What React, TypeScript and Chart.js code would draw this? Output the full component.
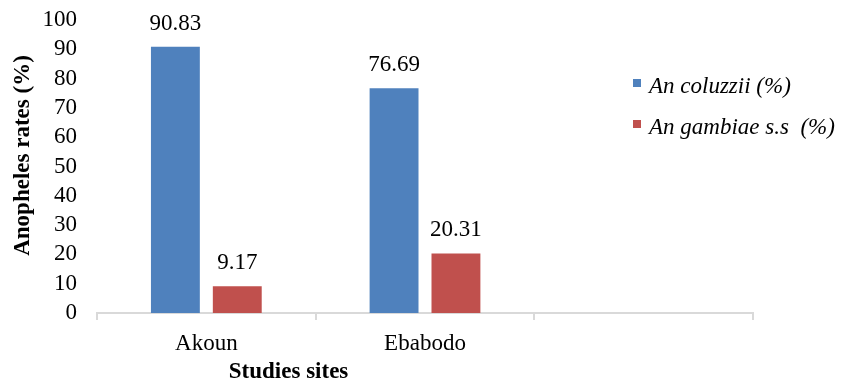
import React, { useEffect, useRef } from "react";
import { Chart, registerables } from "chart.js";

Chart.register(...registerables);

const categories = ["Akoun", "Ebabodo", ""];
const seriesNames = ["An coluzzii (%)", "An gambiae s.s  (%)"];
const coluzzii = [90.83, 76.69, null];
const gambiae = [9.17, 20.31, null];
const colors = ["#4f81bd", "#c0504d"];
const yTitle = "Anopheles rates (%)";
const xTitle = "Studies sites";

const FONT = "'Liberation Serif', 'Times New Roman', serif";
const FS = 23;

const labelsPlugin = {
  id: "customLabels",
  afterDatasetsDraw(chart: any) {
    const ctx = chart.ctx;
    ctx.save();
    ctx.fillStyle = "#000";
    ctx.font = `${FS}px ${FONT}`;
    ctx.textAlign = "center";
    ctx.textBaseline = "alphabetic";
    chart.data.datasets.forEach((ds: any, di: number) => {
      const meta = chart.getDatasetMeta(di);
      meta.data.forEach((bar: any, i: number) => {
        const v = ds.data[i];
        if (v === null || v === undefined) return;
        ctx.fillText(v.toFixed(2), bar.x, bar.y - 17);
      });
    });
    const area = chart.chartArea;
    // x-axis title
    ctx.font = `bold ${FS}px ${FONT}`;
    ctx.fillText(xTitle, area.left + (area.right - area.left) * 0.292, 378);
    // y-axis title
    ctx.save();
    ctx.translate(23, (area.top + area.bottom) / 2 - 11);
    ctx.rotate(-Math.PI / 2);
    ctx.textBaseline = "middle";
    ctx.fillText(yTitle, 0, 0);
    ctx.restore();
    // legend
    const lx = chart.width - 219;
    const rows = [83, 124];
    chart.data.datasets.forEach((ds: any, di: number) => {
      const cy = rows[di];
      ctx.fillStyle = ds.backgroundColor;
      ctx.fillRect(lx, cy - 4, 8, 8);
      ctx.fillStyle = "#000";
      ctx.font = `italic ${FS}px ${FONT}`;
      ctx.textAlign = "left";
      ctx.fillText(ds.label, lx + 16, cy + 10);
    });
    ctx.restore();
  },
};

export default function App() {
  const ref = useRef<HTMLCanvasElement>(null);
  useEffect(() => {
    document.body.style.margin = "0";
    const chart = new Chart(ref.current!, {
      type: "bar",
      data: {
        labels: categories,
        datasets: [
          { label: seriesNames[0], data: coluzzii, backgroundColor: colors[0] },
          { label: seriesNames[1], data: gambiae, backgroundColor: colors[1] },
        ],
      },
      options: {
        animation: false,
        responsive: false,
        maintainAspectRatio: false,
        categoryPercentage: 0.566,
        barPercentage: 0.79,
        layout: { padding: { top: 20, right: 99, bottom: 0, left: 0 } },
        plugins: { legend: { display: false }, tooltip: { enabled: false } },
        scales: {
          x: {
            afterFit: (s: any) => {
              s.height = 71;
              s.paddingLeft = 0;
              s.paddingRight = 0;
            },
            grid: {
              display: true,
              drawOnChartArea: false,
              drawTicks: true,
              tickLength: 7,
              color: "#d9d9d9",
              lineWidth: 2,
            },
            border: { display: true, color: "#d9d9d9", width: 2 },
            ticks: {
              color: "#000",
              font: { family: FONT, size: FS },
              padding: 10,
              maxRotation: 0,
            },
          },
          y: {
            min: 0,
            max: 100,
            afterFit: (s: any) => {
              s.width = 97;
              s.paddingTop = 0;
              s.paddingBottom = 0;
            },
            grid: { display: false, drawTicks: false },
            border: { display: false },
            ticks: {
              stepSize: 10,
              autoSkip: false,
              color: "#000",
              font: { family: FONT, size: FS },
              padding: 20,
            },
          },
        },
      },
      plugins: [labelsPlugin],
    });
    return () => chart.destroy();
  }, []);
  return <canvas ref={ref} width={852} height={384} style={{ display: "block" }} />;
}
